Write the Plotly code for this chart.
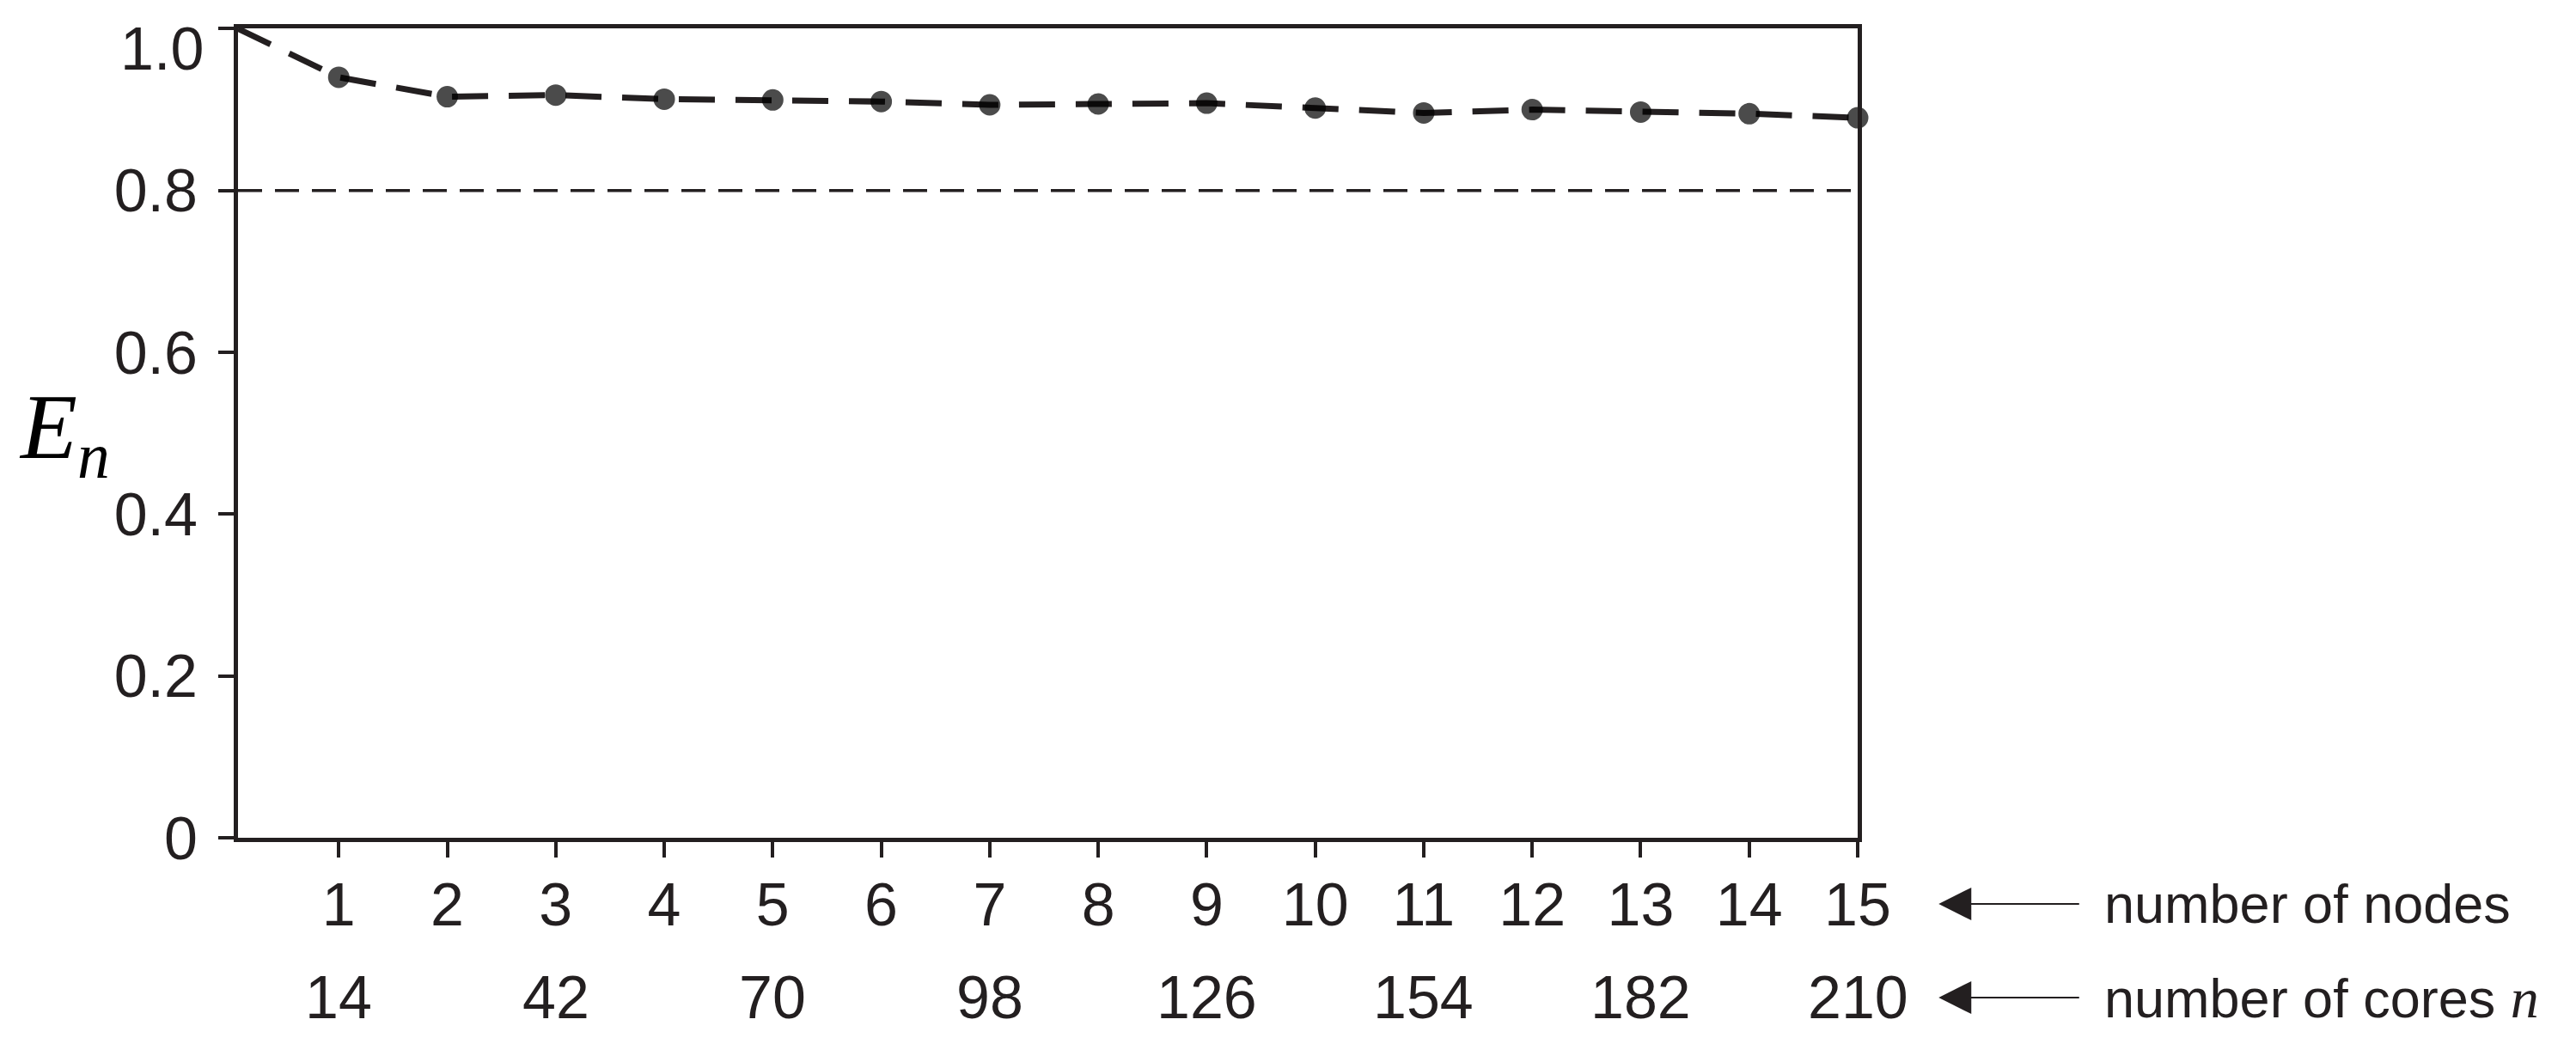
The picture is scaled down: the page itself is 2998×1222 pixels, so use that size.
import plotly.graph_objects as go

# ---- data ----
nodes = list(range(1, 16))
cores_per_node = 14
efficiency_x_cores = [1] + [n * cores_per_node for n in nodes]
efficiency = [1.0, 0.940, 0.916, 0.918, 0.913, 0.912, 0.910, 0.906, 0.907,
              0.908, 0.902, 0.896, 0.900, 0.897, 0.895, 0.890]
threshold = 0.8
y_tickvals = [0, 0.2, 0.4, 0.6, 0.8, 1.0]
y_ticktext = ["0", "0.2", "0.4", "0.6", "0.8", ""]   # "1.0" drawn below the top edge
y_top_label = "1.0"
node_labels = [str(n) for n in nodes]
core_label_nodes = [1, 3, 5, 7, 9, 11, 13, 15]
core_labels = [str(n * cores_per_node) for n in core_label_nodes]

FONT = "Liberation Sans Narrow, Arial Narrow, Liberation Sans, Arial, sans-serif"
SERIF = "Liberation Serif, DejaVu Serif, serif"
INK = "#231f20"
FS = 70

fig = go.Figure()

# threshold line
fig.add_trace(go.Scatter(
    x=[efficiency_x_cores[0], efficiency_x_cores[-1]], y=[threshold, threshold],
    mode="lines", line=dict(color=INK, width=3.5, dash="28px,15px"),
    hoverinfo="skip", showlegend=False, cliponaxis=False))

# efficiency line
marker_sizes = [0] + [23] * len(nodes)
fig.add_trace(go.Scatter(
    x=efficiency_x_cores, y=efficiency, mode="lines+markers",
    line=dict(color=INK, width=7, dash="42px,24px"),
    marker=dict(size=marker_sizes, color="black", line=dict(color="black", width=2)),
    showlegend=False, cliponaxis=False))

fig.update_xaxes(
    range=[efficiency_x_cores[0], efficiency_x_cores[-1]],
    tickmode="array",
    tickvals=[n * cores_per_node for n in nodes],
    ticktext=node_labels,
    ticks="outside", ticklen=18, tickwidth=4, tickcolor=INK,
    ticklabelstandoff=-5, ticklabeloverflow="allow", automargin=False,
    showline=True, linewidth=5, linecolor=INK, mirror=True,
    showgrid=False, zeroline=False,
    tickfont=dict(family=FONT, size=FS, color=INK),
)
fig.update_yaxes(
    range=[0, 1.0005],
    tickmode="array", tickvals=y_tickvals, ticktext=y_ticktext,
    ticks="outside", ticklen=18, tickwidth=4, tickcolor=INK,
    ticklabelstandoff=10, ticklabeloverflow="allow", automargin=False,
    showline=True, linewidth=5, linecolor=INK, mirror=True,
    showgrid=False, zeroline=False,
    tickfont=dict(family=FONT, size=FS, color=INK),
)

annotations = []
# top y label, sitting just below the top edge
annotations.append(dict(
    x=0, y=y_tickvals[-1], xref="paper", yref="y", text=y_top_label,
    showarrow=False, xanchor="right", yanchor="middle",
    xshift=-38, yshift=-24, font=dict(family=FONT, size=FS, color=INK)))

# second row: number of cores
for n, lab in zip(core_label_nodes, core_labels):
    annotations.append(dict(
        x=n * cores_per_node, y=0, xref="x", yref="paper",
        text=lab, showarrow=False, xanchor="center", yanchor="middle",
        yshift=-186, font=dict(family=FONT, size=FS, color=INK)))

# arrows and descriptions
for yshift, txt in [(-77, "number of nodes"),
                    (-186, "number of cores <i><span style='font-family:Liberation Serif;font-size:66px'>n</span></i>")]:
    annotations.append(dict(
        x=1.050, y=0, xref="paper", yref="paper", yshift=yshift,
        ax=165, ay=0, showarrow=True, arrowhead=2, arrowsize=3.8,
        arrowwidth=2, arrowcolor=INK, text=""))
    annotations.append(dict(
        x=1.151, y=0, xref="paper", yref="paper", yshift=yshift,
        text=txt, showarrow=False, xanchor="left", yanchor="middle",
        font=dict(family=FONT, size=63, color=INK)))

# y-axis label E_n
annotations.append(dict(
    x=-0.107, y=0.50, xref="paper", yref="paper",
    text="<i>E</i><sub><i>n</i></sub>", showarrow=False,
    xanchor="center", yanchor="middle",
    font=dict(family=SERIF, size=108, color="black")))

fig.update_layout(
    width=2998, height=1222,
    margin=dict(l=269, r=844, t=25, b=255),
    paper_bgcolor="white", plot_bgcolor="white",
    annotations=annotations,
)

fig.write_html("out.html")
